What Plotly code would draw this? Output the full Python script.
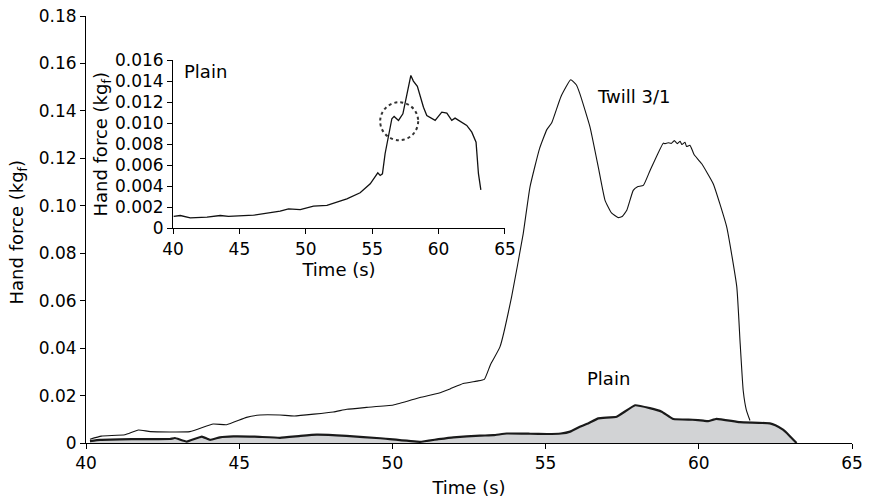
import plotly.graph_objects as go

# ---- data ----
twill_t = [40.13, 40.5, 41.27, 41.71, 42.1, 43.39, 44.15, 44.59, 45.24, 45.68, 46.33, 46.8,
           48.07, 48.51, 49.16, 50.03, 50.9, 51.5, 51.88, 52.31, 52.75, 53.0, 53.2, 53.51,
           53.89, 54.27, 54.49, 54.8, 55.04, 55.2, 55.5, 55.82, 56.0, 56.12, 56.45, 56.72,
           56.94, 57.15, 57.37, 57.5, 57.65, 57.86, 58.0, 58.19, 58.41, 58.84, 58.9, 59.0,
           59.1, 59.2, 59.3, 59.39, 59.45, 59.55, 59.6, 59.71, 59.8, 59.85, 60.09, 60.47,
           60.91, 61.24, 61.35, 61.45, 61.55, 61.67]
twill_v = [0.0016, 0.0029, 0.0035, 0.0055, 0.0048, 0.0048, 0.0080, 0.0077, 0.0108, 0.0118, 0.0118, 0.0114,
           0.0131, 0.0142, 0.0150, 0.0160, 0.0192, 0.0210, 0.0228, 0.0251, 0.0261, 0.0268, 0.0330, 0.0405,
           0.0616, 0.0883, 0.1079, 0.1240, 0.1321, 0.1350, 0.1460, 0.1531, 0.1510, 0.1472, 0.1332, 0.1163,
           0.1023, 0.0970, 0.0950, 0.0955, 0.0981, 0.1065, 0.1080, 0.1086, 0.1149, 0.1264, 0.1262, 0.1266,
           0.1263, 0.1275, 0.1262, 0.1272, 0.1258, 0.1268, 0.1250, 0.1255, 0.1230, 0.1215, 0.1178, 0.1093,
           0.0911, 0.0658, 0.0420, 0.0220, 0.0140, 0.0095]

plain_t = [40.13, 40.46, 41.5, 42.74, 42.9, 43.29, 43.78, 44.05, 44.37, 44.81, 45.5, 46.33, 47.0,
           47.53, 48.5, 49.6, 50.9, 51.5, 51.99, 52.86, 53.3, 53.73, 54.5, 55.04, 55.5, 55.8,
           56.12, 56.4, 56.72, 57.32, 57.92, 58.4, 58.79, 59.17, 59.8, 60.15, 60.3, 60.58,
           61.34, 62.32, 62.5, 62.76, 62.95, 63.19]
plain_v = [0.0008, 0.0013, 0.0016, 0.0017, 0.0021, 0.0006, 0.0027, 0.0013, 0.0024, 0.0028, 0.0027, 0.0022, 0.0030,
           0.0035, 0.0030, 0.0020, 0.0005, 0.0016, 0.0024, 0.0031, 0.0033, 0.0040, 0.0039, 0.0038, 0.0040, 0.0048,
           0.0069, 0.0083, 0.0104, 0.0111, 0.0159, 0.0147, 0.0132, 0.0101, 0.0098, 0.0094, 0.0092, 0.0102,
           0.0088, 0.0083, 0.0075, 0.0055, 0.0032, 0.0000]

inset_t = [40.05, 40.55, 41.3, 42.56, 43.56, 44.18, 46.07, 48.07, 48.7, 49.58, 50.58, 51.59, 53.09,
           54.09, 54.85, 55.42, 55.6, 55.77, 55.97, 56.22, 56.48, 56.65, 56.98, 57.31, 57.55,
           57.91, 58.1, 58.4, 58.86, 59.11, 59.74, 60.24, 60.62, 60.99, 61.24, 61.87, 62.12,
           62.5, 62.82, 63.0, 63.18]
inset_v = [0.00112, 0.00121, 0.00099, 0.00105, 0.00121, 0.00112, 0.00124, 0.00162, 0.00185, 0.00178, 0.00210,
           0.00217, 0.00280, 0.00338, 0.00424, 0.00528, 0.00503, 0.00519, 0.00710, 0.00885, 0.01044,
           0.01066, 0.01028, 0.01091, 0.01250, 0.01457, 0.01403, 0.01352, 0.01154, 0.01075, 0.01028,
           0.01107, 0.01097, 0.01028, 0.01050, 0.00996, 0.00980, 0.00916, 0.00820, 0.00520, 0.00366]

x_ticks = [40, 45, 50, 55, 60, 65]
y_ticks = [0, 0.02, 0.04, 0.06, 0.08, 0.10, 0.12, 0.14, 0.16, 0.18]
y_tick_text = ["0", "0.02", "0.04", "0.06", "0.08", "0.10", "0.12", "0.14", "0.16", "0.18"]
inset_y_ticks = [0, 0.002, 0.004, 0.006, 0.008, 0.010, 0.012, 0.014, 0.016]
inset_y_tick_text = ["0", "0.002", "0.004", "0.006", "0.008", "0.010", "0.012", "0.014", "0.016"]

FONT = "DejaVu Sans"

fig = go.Figure()
fig.add_trace(go.Scatter(x=twill_t, y=twill_v, mode="lines",
                         line=dict(color="#111111", width=1.1, shape="spline", smoothing=0.4),
                         xaxis="x", yaxis="y", showlegend=False, hoverinfo="skip"))
fig.add_trace(go.Scatter(x=plain_t, y=plain_v, mode="lines", fill="tozeroy",
                         fillcolor="#d2d3d5",
                         line=dict(color="#1a1a1a", width=2.2, shape="spline", smoothing=0.3),
                         xaxis="x", yaxis="y", showlegend=False, hoverinfo="skip"))
fig.add_trace(go.Scatter(x=inset_t, y=inset_v, mode="lines",
                         line=dict(color="#111111", width=1.3),
                         xaxis="x2", yaxis="y2", showlegend=False, hoverinfo="skip"))

axis_common = dict(showline=True, linecolor="black", linewidth=1, ticks="outside", ticklen=5,
                   tickcolor="black", tickwidth=1, showgrid=False, zeroline=False, automargin=False,
                   tickfont=dict(family=FONT, size=17, color="black"))

fig.update_layout(
    width=870, height=498,
    margin=dict(l=86, r=18, t=16, b=55, autoexpand=False),
    paper_bgcolor="white", plot_bgcolor="rgba(0,0,0,0)",
    font=dict(family=FONT, color="black"),
    xaxis=dict(range=[40, 65], tickvals=x_ticks, domain=[0, 1], anchor="y",
               title=dict(text="Time (s)", font=dict(family=FONT, size=18), standoff=9),
               **axis_common),
    yaxis=dict(range=[0, 0.18], tickvals=y_ticks, ticktext=y_tick_text, domain=[0, 1], anchor="x",
               **axis_common),
    xaxis2=dict(range=[40, 65], tickvals=x_ticks, domain=[0.1136, 0.547], anchor="y2",
                title=dict(text="Time (s)", font=dict(family=FONT, size=18), standoff=2),
                **axis_common),
    yaxis2=dict(range=[0, 0.016], tickvals=inset_y_ticks, ticktext=inset_y_tick_text,
                domain=[0.503, 0.896], anchor="x2",
                title=dict(text="Hand force (kg<sub>f</sub>)", font=dict(family=FONT, size=18), standoff=2),
                **axis_common),
)

# main y-axis title placed as a rotated paper annotation for exact position
fig.add_annotation(x=-0.089, y=0.495, xref="paper", yref="paper", text="Hand force (kg<sub>f</sub>)",
                   textangle=-90, showarrow=False, xanchor="center", yanchor="middle",
                   font=dict(family=FONT, size=18, color="black"))

fig.add_annotation(x=57.88, y=0.1461, xref="x", yref="y", text="Twill 3/1", showarrow=False,
                   font=dict(family=FONT, size=18, color="black"))
fig.add_annotation(x=57.04, y=0.0274, xref="x", yref="y", text="Plain", showarrow=False,
                   font=dict(family=FONT, size=18, color="black"))
fig.add_annotation(x=42.43, y=0.0149, xref="x2", yref="y2", text="Plain", showarrow=False,
                   font=dict(family=FONT, size=18, color="black"))

# dotted circle highlighting the local dip in the inset
cx, cy, rx, ry = 57.03, 0.0102, 1.43, 0.00181
fig.add_shape(type="circle", xref="x2", yref="y2", x0=cx - rx, x1=cx + rx, y0=cy - ry, y1=cy + ry,
              line=dict(color="#333333", width=2, dash="dot"))

fig.write_html("out.html", config={"displayModeBar": False},
               post_script="document.body.style.margin='0';document.body.style.overflow='hidden';")
